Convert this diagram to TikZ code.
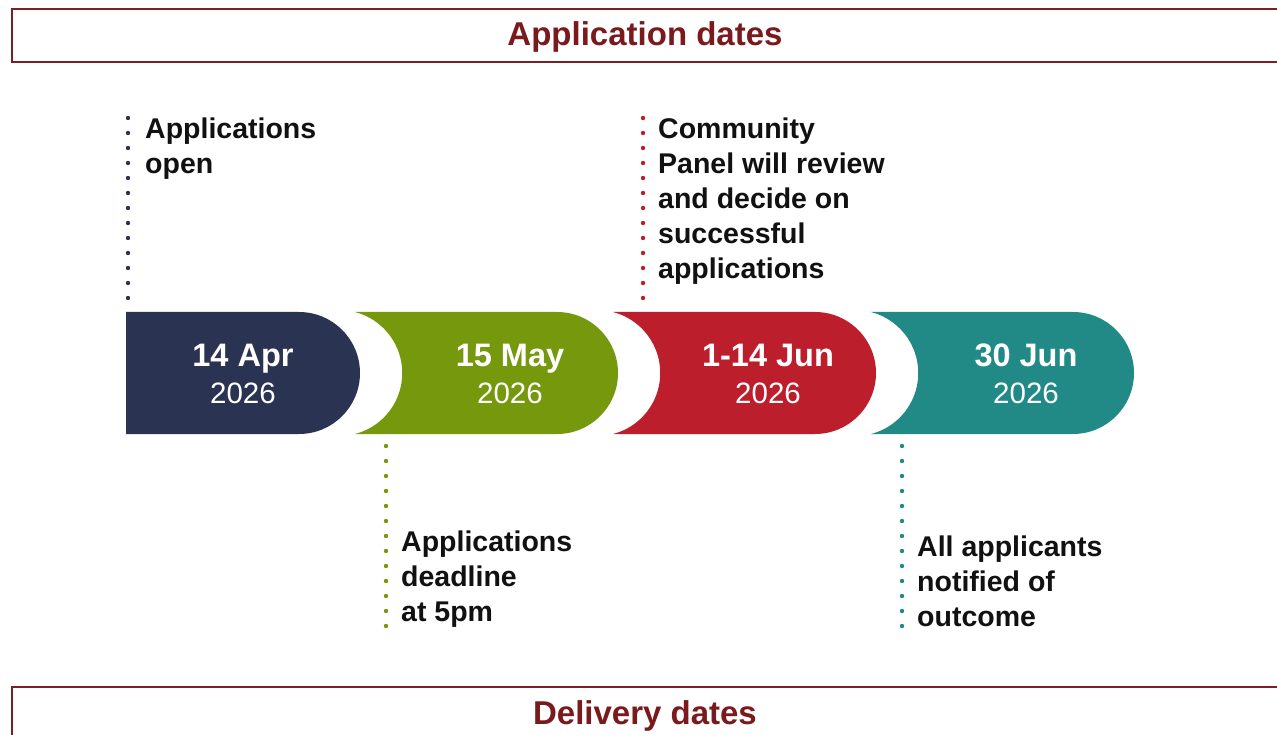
\documentclass[tikz,border=0pt]{standalone}
\usepackage{fontspec}
\setmainfont{Liberation Sans}
\definecolor{navyc}{HTML}{2B3352}
\definecolor{olivec}{HTML}{76980C}
\definecolor{crimsonc}{HTML}{BD1E2C}
\definecolor{tealc}{HTML}{218A86}
\definecolor{maroonc}{HTML}{7B1F24}
\definecolor{titlec}{HTML}{7A1A1C}
\definecolor{textc}{HTML}{111111}
\tikzset{
  titlebox/.style={draw=maroonc, line width=1.8pt},
  titletext/.style={anchor=base, text=titlec, inner sep=0pt, font=\fontsize{33}{40}\selectfont\bfseries},
  datetop/.style={anchor=base, text=white, inner sep=0pt, font=\fontsize{32.5}{40}\selectfont\bfseries},
  datebot/.style={anchor=base, text=white, inner sep=0pt, font=\fontsize{29.5}{40}\selectfont},
  note/.style={anchor=base west, align=left, text=textc, inner sep=0pt, font=\fontsize{28.5}{35}\selectfont\bfseries},
  dots/.style={line width=4.4pt, line cap=round, dash pattern=on 0pt off 15pt},
}
\begin{document}
\begin{tikzpicture}[x=1pt, y=-1pt]
\useasboundingbox (0,0) rectangle (1277,735);
\fill[white] (0,0) rectangle (1277,735);
% title boxes
\draw[titlebox] (1290,9) -- (12,9) -- (12,62) -- (1290,62);
\node[titletext] (t1) at (645,46) {Application dates};
\draw[titlebox] (1290,687) -- (12,687) -- (12,745);
\node[titletext] (t2) at (645,724) {Delivery dates};
% timeline shapes
\fill[navyc] (126,312) -- (299,312) arc[start angle=-90, end angle=90, radius=61] -- (126,434) -- cycle;
\foreach \i/\c in {1/olivec, 2/crimsonc, 3/tealc}{
  \pgfmathsetmacro{\xl}{355+258*(\i-1)}
  \pgfmathsetmacro{\xr}{557+258*(\i-1)}
  \fill[\c] (\xl,312) -- (\xr,312) arc[start angle=-90, end angle=90, radius=61]
     -- (\xl,434) arc[start angle=75.5, end angle=-75.5, radius=63] -- cycle;
}
% dates
\node[datetop] (d1) at (243,366) {14 Apr};
\node[datebot] (y1) at (243,403) {2026};
\node[datetop] (d2) at (510,366) {15 May};
\node[datebot] (y2) at (510,403) {2026};
\node[datetop] (d3) at (768,366) {1-14 Jun};
\node[datebot] (y3) at (768,403) {2026};
\node[datetop] (d4) at (1026,366) {30 Jun};
\node[datebot] (y4) at (1026,403) {2026};
% notes (base anchor = baseline of last line)
\node[note] (n1) at (145,174) {Applications\\open};
\node[note] (n2) at (658,279) {Community\\Panel will review\\and decide on\\successful\\applications};
\node[note] (n3) at (401,621) {Applications\\deadline\\at 5pm};
\node[note] (n4) at (917,626) {All applicants\\notified of\\outcome};
% dotted leaders
\coordinate (a1) at (128,118); \coordinate (b1) at (128,300);
\coordinate (a2) at (643,118); \coordinate (b2) at (643,300);
\coordinate (a3) at (386,446); \coordinate (b3) at (386,628);
\coordinate (a4) at (902,446); \coordinate (b4) at (902,628);
\draw[dots, navyc] (a1) -- (b1);
\draw[dots, crimsonc] (a2) -- (b2);
\draw[dots, olivec] (a3) -- (b3);
\draw[dots, tealc] (a4) -- (b4);
\end{tikzpicture}
\end{document}
